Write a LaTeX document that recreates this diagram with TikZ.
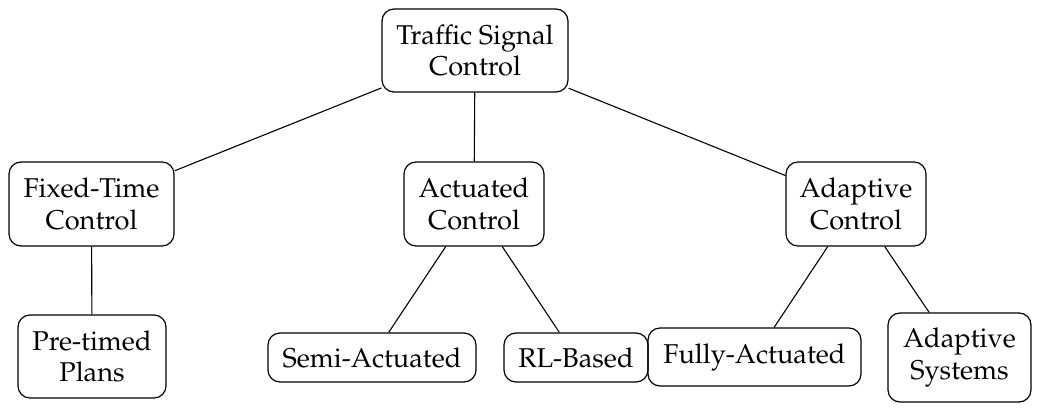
\documentclass[tikz,border=0pt]{standalone}
\usepackage[T1]{fontenc}
\usepackage{mathpazo}
\begin{document}
\begin{tikzpicture}[x=0.5pt,y=-0.5pt,
  box/.style={draw=black, line width=0.6pt, rounded corners=6pt, align=center, inner sep=0pt,
    font=\fontencoding{T1}\fontfamily{ppl}\fontsize{13.6}{15.6}\selectfont},
  link/.style={draw=black, line width=0.55pt}]
\useasboundingbox (0,0) rectangle (1039,411);
\node[box, minimum width=93pt, minimum height=41.5pt] (root) at (475,50.5) {Traffic Signal\\Control};
\node[box, minimum width=82.5pt, minimum height=42pt] (fixed) at (91.5,204) {Fixed-Time\\Control};
\node[box, minimum width=70pt, minimum height=42pt] (act) at (474,204) {Actuated\\Control};
\node[box, minimum width=70pt, minimum height=42pt] (adapt) at (856,204) {Adaptive\\Control};
\node[box, minimum width=74pt, minimum height=41.5pt] (pre) at (92,356.5) {Pre-timed\\Plans};
\node[box, minimum width=104pt, minimum height=24.5pt] (semi) at (372,357.5) {Semi-Actuated};
\node[box, minimum width=72pt, minimum height=24.5pt] (rl) at (576,357.5) {RL-Based};
\node[box, minimum width=106.5pt, minimum height=29pt] (fully) at (754.5,357) {Fully-Actuated};
\node[box, minimum width=71.5pt, minimum height=44.5pt] (adsys) at (959.5,357.5) {Adaptive\\Systems};
\draw[link] (root) -- (fixed);
\draw[link] (root) -- (act);
\draw[link] (root) -- (adapt);
\draw[link] (fixed) -- (pre);
\draw[link] (act) -- (semi);
\draw[link] (act) -- (rl);
\draw[link] (adapt) -- (fully);
\draw[link] (adapt) -- (adsys);
\end{tikzpicture}
\end{document}
